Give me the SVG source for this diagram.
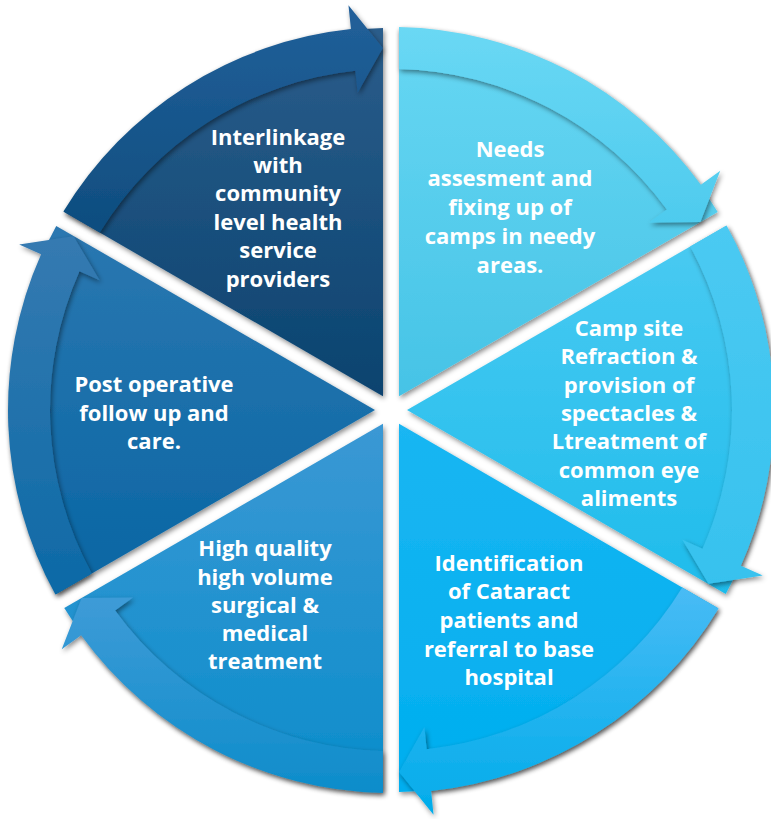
<svg xmlns="http://www.w3.org/2000/svg" xmlns:xlink="http://www.w3.org/1999/xlink" width="771" height="819" viewBox="0 0 771 819">
<style>
.t{fill:#ffffff;font-family:"Open Sans","Noto Sans","DejaVu Sans",sans-serif;font-weight:700;font-size:22px;text-anchor:middle}
</style>
<defs>
<filter id="sh" x="-10%" y="-10%" width="120%" height="120%">
<feDropShadow dx="1.5" dy="2.5" stdDeviation="2.5" flood-color="#000" flood-opacity="0.45"/>
</filter>
<path id="wedge" d="M 399,396.14 L 399,28.08 A 382 382 0 0 1 717.75,212.11 Z"/>
<path id="arrow" d="M 399,27.08 A 383 383 0 0 1 700.85,184.87 L 720.26,170.77 L 700.33,221.94 L 649.07,222.49 L 666.87,209.56 A 341 341 0 0 0 399,69.09 Z"/>
<linearGradient id="w1" gradientUnits="userSpaceOnUse" x1="0" y1="30" x2="0" y2="400"><stop offset="0" stop-color="#67d7f3"/><stop offset="1" stop-color="#45c3e6"/></linearGradient>
<linearGradient id="w2" gradientUnits="userSpaceOnUse" x1="0" y1="212" x2="0" y2="608" gradientTransform="rotate(-60 391 410)"><stop offset="0" stop-color="#4ccbf2"/><stop offset="1" stop-color="#1dbbeb"/></linearGradient>
<linearGradient id="w3" gradientUnits="userSpaceOnUse" x1="0" y1="424" x2="0" y2="792" gradientTransform="rotate(-120 391 410)"><stop offset="0" stop-color="#1ab6f2"/><stop offset="1" stop-color="#00aeef"/></linearGradient>
<linearGradient id="w4" gradientUnits="userSpaceOnUse" x1="0" y1="424" x2="0" y2="792" gradientTransform="rotate(-180 391 410)"><stop offset="0" stop-color="#3b98d4"/><stop offset="1" stop-color="#0a8dcb"/></linearGradient>
<linearGradient id="w5" gradientUnits="userSpaceOnUse" x1="0" y1="212" x2="0" y2="608" gradientTransform="rotate(-240 391 410)"><stop offset="0" stop-color="#2c78b1"/><stop offset="1" stop-color="#0765a3"/></linearGradient>
<linearGradient id="w6" gradientUnits="userSpaceOnUse" x1="0" y1="28" x2="0" y2="396" gradientTransform="rotate(-300 391 410)"><stop offset="0" stop-color="#2b5d8b"/><stop offset="1" stop-color="#0a436f"/></linearGradient>
<linearGradient id="a1" gradientUnits="userSpaceOnUse" x1="0" y1="27" x2="0" y2="223"><stop offset="0" stop-color="#6ad8f4"/><stop offset="1" stop-color="#4ecbee"/></linearGradient>
<linearGradient id="a2" gradientUnits="userSpaceOnUse" x1="0" y1="212" x2="0" y2="610" gradientTransform="rotate(-60 391 410)"><stop offset="0" stop-color="#4ccaf2"/><stop offset="1" stop-color="#35c1ee"/></linearGradient>
<linearGradient id="a3" gradientUnits="userSpaceOnUse" x1="0" y1="590" x2="0" y2="817" gradientTransform="rotate(-120 391 410)"><stop offset="0" stop-color="#48bbf5"/><stop offset="1" stop-color="#00acea"/></linearGradient>
<linearGradient id="a4" gradientUnits="userSpaceOnUse" x1="0" y1="600" x2="0" y2="800" gradientTransform="rotate(-180 391 410)"><stop offset="0" stop-color="#3e9bd7"/><stop offset="1" stop-color="#0b8cca"/></linearGradient>
<linearGradient id="a5" gradientUnits="userSpaceOnUse" x1="0" y1="240" x2="0" y2="610" gradientTransform="rotate(-240 391 410)"><stop offset="0" stop-color="#357ab1"/><stop offset="1" stop-color="#0b69a6"/></linearGradient>
<linearGradient id="a6" gradientUnits="userSpaceOnUse" x1="0" y1="5" x2="0" y2="222" gradientTransform="rotate(-300 391 410)"><stop offset="0" stop-color="#22609a"/><stop offset="1" stop-color="#0f4e80"/></linearGradient>
</defs>
<g id="seg1" filter="url(#sh)"><use xlink:href="#wedge" fill="url(#w1)"/></g>
<g id="seg2" filter="url(#sh)"><use xlink:href="#wedge" fill="url(#w2)" transform="rotate(60 391 410)"/></g>
<g id="seg3" filter="url(#sh)"><use xlink:href="#wedge" fill="url(#w3)" transform="rotate(120 391 410)"/></g>
<g id="seg4" filter="url(#sh)"><use xlink:href="#wedge" fill="url(#w4)" transform="rotate(180 391 410)"/></g>
<g id="seg5" filter="url(#sh)"><use xlink:href="#wedge" fill="url(#w5)" transform="rotate(240 391 410)"/></g>
<g id="seg6" filter="url(#sh)"><use xlink:href="#wedge" fill="url(#w6)" transform="rotate(300 391 410)"/></g>
<g id="connectors">
<g filter="url(#sh)"><use xlink:href="#arrow" fill="url(#a1)"/></g>
<g filter="url(#sh)"><use xlink:href="#arrow" fill="url(#a2)" transform="rotate(60 391 410)"/></g>
<g filter="url(#sh)"><use xlink:href="#arrow" fill="url(#a3)" transform="rotate(120 391 410)"/></g>
<g filter="url(#sh)"><use xlink:href="#arrow" fill="url(#a4)" transform="rotate(180 391 410)"/></g>
<g filter="url(#sh)"><use xlink:href="#arrow" fill="url(#a5)" transform="rotate(240 391 410)"/></g>
<g filter="url(#sh)"><use xlink:href="#arrow" fill="url(#a6)" transform="rotate(300 391 410)"/></g>
</g>
<g id="labels">
<text class="t" x="510"><tspan x="510" y="157">Needs</tspan><tspan x="510" y="186">assesment and</tspan><tspan x="510" y="215">fixing up of</tspan><tspan x="510" y="244">camps in needy</tspan><tspan x="510" y="273">areas.</tspan></text>
<text class="t"><tspan x="629" y="336">Camp site</tspan><tspan x="629" y="364">Refraction &amp;</tspan><tspan x="629" y="393">provision of</tspan><tspan x="629" y="421">spectacles &amp;</tspan><tspan x="629" y="449">Ltreatment of</tspan><tspan x="629" y="478">common eye</tspan><tspan x="629" y="506">aliments</tspan></text>
<text class="t"><tspan x="509" y="571">Identification</tspan><tspan x="509" y="599">of Cataract</tspan><tspan x="509" y="628">patients and</tspan><tspan x="509" y="657">referral to base</tspan><tspan x="509" y="685">hospital</tspan></text>
<text class="t"><tspan x="265" y="556">High quality</tspan><tspan x="265" y="585">high volume</tspan><tspan x="265" y="613">surgical &amp;</tspan><tspan x="265" y="641">medical</tspan><tspan x="265" y="669">treatment</tspan></text>
<text class="t"><tspan x="154" y="392">Post operative</tspan><tspan x="154" y="421">follow up and</tspan><tspan x="154" y="449">care.</tspan></text>
<text class="t"><tspan x="278" y="144.5">Interlinkage</tspan><tspan x="278" y="172.5">with</tspan><tspan x="278" y="201">community</tspan><tspan x="278" y="229.5">level health</tspan><tspan x="278" y="258">service</tspan><tspan x="278" y="286.5">providers</tspan></text>
</g>
</svg>
